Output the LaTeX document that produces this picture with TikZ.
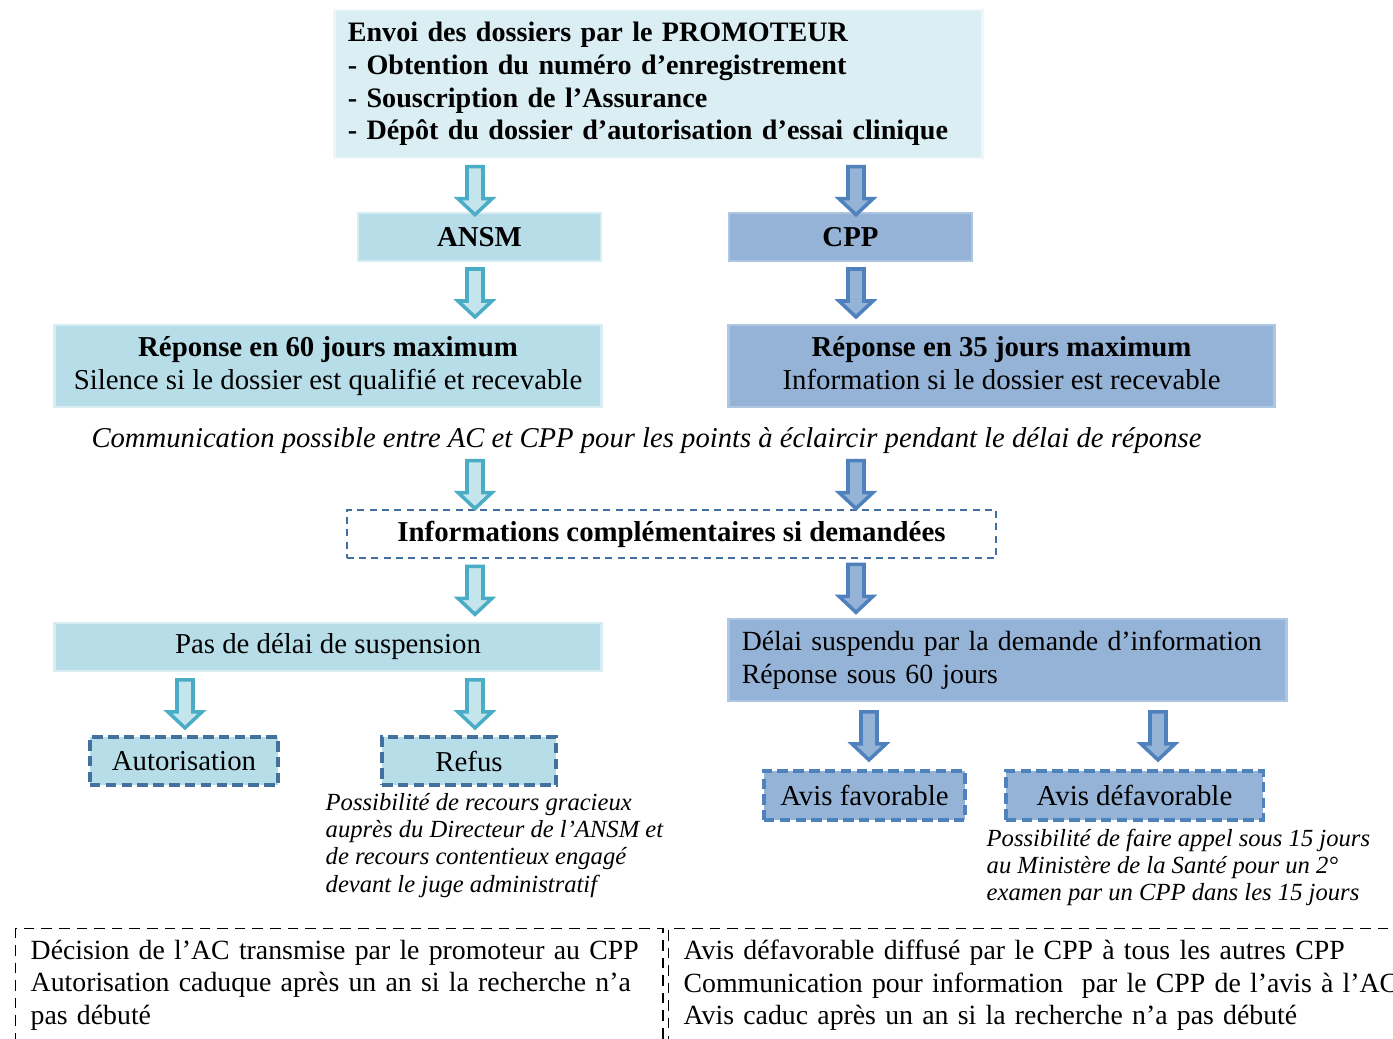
\documentclass[tikz,border=0pt]{standalone}
\usepackage{fontspec}
\setmainfont{Liberation Serif}
\usepackage{xcolor}
\definecolor{aquafill}{HTML}{B7DEE8}
\definecolor{aqualine}{HTML}{4BACC6}
\definecolor{aquapale}{HTML}{DBEEF4}
\definecolor{bluefill}{HTML}{95B3D7}
\definecolor{blueline}{HTML}{4F81BD}
\definecolor{navydash}{HTML}{41719C}

\begin{document}
\begin{tikzpicture}[
			x=0.01cm, y=-0.01cm,
			every node/.style={inner sep=0pt, font=\fontsize{8.2}{9.4}\selectfont},
			aquabox/.style={rectangle, fill=aquafill, draw=aquafill!55!white, line width=0.8pt},
			bluebox/.style={rectangle, fill=bluefill, draw=bluefill!75!white, line width=0.8pt},
			dashbox/.style={draw=navydash, line width=0.9pt, dash pattern=on 3pt off 1.5pt},
			notetext/.style={align=left, font=\itshape\fontsize{7}{7.7}\selectfont},
			bottombox/.style={draw=black, line width=0.4pt, dash pattern=on 3pt off 2pt,
					inner xsep=0.15cm, inner ysep=0.07cm, align=left, font=\fontsize{7.9}{9.3}\selectfont},
			arrL/.style={draw=aqualine, fill=aquafill!80!white, line width=1pt},
			arrR/.style={draw=blueline, fill=bluefill, line width=1pt},
			pics/downarr/.style={code={
							\filldraw[#1] (-8,-24) -- (8,-24) -- (8,8) -- (17,8) -- (0,24) -- (-17,8) -- (-8,8) -- cycle;}}
		]
		\useasboundingbox (0,0) rectangle (1393,1039);

		% --- Columns of the arrows ---
		\coordinate (colL) at (475,0);
		\coordinate (colR) at (856,0);
		\coordinate (colA) at (185,0);
		\coordinate (colF) at (869,0);
		\coordinate (colD) at (1158,0);

		% --- Dossier of the promoteur ---
		\node[rectangle, fill=aquapale, draw=aquapale!50!white, line width=0.8pt,
			minimum width=6.47cm, minimum height=1.48cm, text width=6.21cm, align=left,
			font=\bfseries\fontsize{8}{9.3}\selectfont] (promo) at (658.5,84)
		{Envoi des dossiers par le PROMOTEUR\\- Obtention du numéro d’enregistrement\\- Souscription de l’Assurance\\- Dépôt du dossier d’autorisation d’essai clinique};

		% --- ANSM and CPP ---
		\node[aquabox, minimum width=2.43cm, minimum height=0.48cm, font=\bfseries\fontsize{8.2}{9.4}\selectfont] (ansm) at (479.5,237) {ANSM};
		\node[bluebox, minimum width=2.43cm, minimum height=0.48cm, font=\bfseries\fontsize{8.2}{9.4}\selectfont] (cpp) at (850.5,237) {CPP};

		% --- Response delays ---
		\node[aquabox, minimum width=5.46cm, minimum height=0.82cm, align=center] (rep60) at (328,366)
		{\textbf{Réponse en 60 jours maximum}\\Silence si le dossier est qualifié et recevable};
		\node[bluebox, minimum width=5.45cm, minimum height=0.82cm, align=center] (rep35) at (1001.5,366)
		{\textbf{Réponse en 35 jours maximum}\\Information si le dossier est recevable\vphantom{q}};

		\node[font=\itshape\fontsize{8.15}{9.4}\selectfont] (comm) at (646.5,441)
		{Communication possible entre AC et CPP pour les points à éclaircir pendant le délai de réponse};

		% --- Additional information ---
		\node[draw=blueline!85!black, line width=0.6pt, dash pattern=on 2pt off 1.5pt,
			minimum width=6.49cm, minimum height=0.48cm, font=\bfseries\fontsize{8.2}{9.4}\selectfont] (info) at (671.5,534)
		{Informations complémentaires si demandées};

		\node[aquabox, minimum width=5.46cm, minimum height=0.48cm] (pasdelai) at (328,647) {Pas de délai de suspension};
		\node[bluebox, minimum width=5.57cm, minimum height=0.82cm, text width=5.31cm, align=left,
			font=\fontsize{7.9}{9.4}\selectfont] (suspendu) at (1007.5,660)
		{Délai suspendu par la demande d’information\\Réponse sous 60 jours};

		% --- Decisions ---
		\node[aquabox, dashbox, minimum width=1.88cm, minimum height=0.48cm] (autor) at (184,761) {Autorisation};
		\node[aquabox, dashbox, minimum width=1.74cm, minimum height=0.48cm] (refus) at (469,761) {Refus};
		\node[bluebox, dashbox, draw=blueline, minimum width=2.01cm, minimum height=0.49cm] (favor) at (864.5,795.5) {Avis favorable};
		\node[bluebox, dashbox, draw=blueline, minimum width=2.57cm, minimum height=0.49cm] (defavor) at (1134.5,795.5) {Avis défavorable};

		\node[notetext, anchor=north west] (recours) at (325,793)
		{Possibilité de recours gracieux\\auprès du Directeur de l’ANSM et\\de recours contentieux engagé\\devant le juge administratif};
		\node[notetext, anchor=north west] (appel) at (986,828)
		{Possibilité de faire appel sous 15 jours\\au Ministère de la Santé pour un 2°\\examen par un CPP dans les 15 jours};

		% --- Bottom remarks ---
		\node[bottombox, anchor=north west, text width=6.17cm, minimum height=1.13cm] (decision) at (15,928)
		{Décision de l’AC transmise par le promoteur au CPP\\Autorisation caduque après un an si la recherche n’a\\pas débuté};
		\node[bottombox, anchor=north west, text width=7.3cm, minimum height=1.13cm] (diffusion) at (668,928)
		{Avis défavorable diffusé par le CPP à tous les autres CPP\\Communication pour information~ par le CPP de l’avis à l’AC\\Avis caduc après un an si la recherche n’a pas débuté};

		% --- Arrows ---
		\path (promo.south -| colL) -- (ansm.north -| colL) coordinate[pos=0.6] (a1)
		(promo.south -| colR) -- (cpp.north -| colR) coordinate[pos=0.6] (a2)
		(ansm.south -| colL) -- (rep60.north -| colL) coordinate[midway] (a3)
		(cpp.south -| colR) -- (rep35.north -| colR) coordinate[midway] (a4)
		(comm.south -| colL) -- (info.north -| colL) coordinate[pos=0.55] (a5)
		(comm.south -| colR) -- (info.north -| colR) coordinate[pos=0.55] (a6)
		(info.south -| colL) -- (pasdelai.north -| colL) coordinate[midway] (a7)
		(info.south -| colR) -- (suspendu.north -| colR) coordinate[midway] (a8)
		(pasdelai.south -| colA) -- (autor.north -| colA) coordinate[midway] (a9)
		(pasdelai.south -| colL) -- (refus.north -| colL) coordinate[midway] (a10)
		(suspendu.south -| colF) -- (favor.north -| colF) coordinate[midway] (a11)
		(suspendu.south -| colD) -- (defavor.north -| colD) coordinate[midway] (a12);

		\foreach \a in {a1,a3,a5,a7,a9,a10} {
				\pic at (\a) {downarr=arrL};
			}
		\foreach \a in {a2,a4,a6,a8,a11,a12} {
				\pic at (\a) {downarr=arrR};
			}

	\end{tikzpicture}
\end{document}
